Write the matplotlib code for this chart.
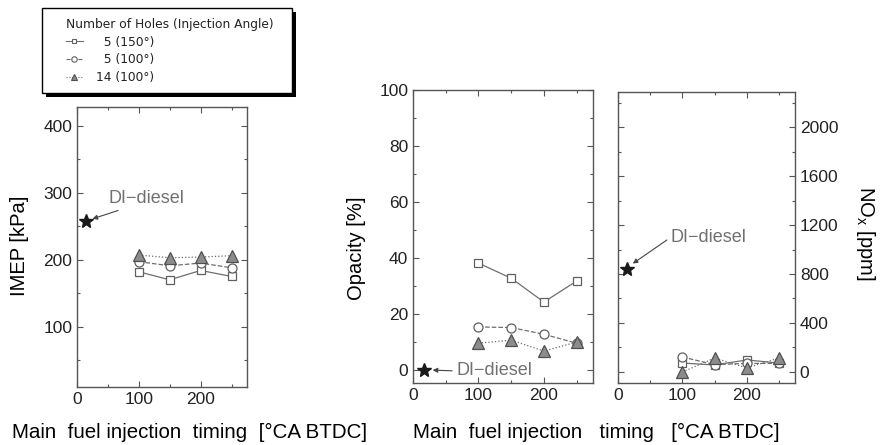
import matplotlib.pyplot as plt
from matplotlib.lines import Line2D
from matplotlib.patches import Rectangle
from matplotlib.ticker import MultipleLocator

plt.rcParams['font.family'] = ['Liberation Sans', 'DejaVu Sans']

# Datos
timing = [100, 150, 200, 250]
legend_title = 'Number of Holes (Injection Angle)'
series_labels = ['  5 (150°)', '  5 (100°)', '14 (100°)']

imep_5_150 = [182, 170, 184, 175]
imep_5_100 = [197, 191, 195, 188]
imep_14_100 = [207, 203, 204, 206]

opacity_5_150 = [38.2, 32.8, 24.3, 31.8]
opacity_5_100 = [15.4, 15.2, 12.8, 9.6]
opacity_14_100 = [9.6, 10.7, 6.8, 10.0]

nox_5_150 = [73, 57, 98, 73]
nox_5_100 = [122, 60, 70, 70]
nox_14_100 = [0, 114, 33, 114]

# DI-diesel (timing, valor)
diesel_imep = (14.5, 258)
diesel_opacity = (17, 0)
diesel_nox = (14, 840)

W, H = 882, 445
fig = plt.figure(figsize=(W / 100, H / 100), dpi=100)

line_col = '#6e6e6e'
styles = [
    dict(ls='-', marker='s', ms=6, mfc='white', mec='#606060'),
    dict(ls='--', marker='o', ms=6.5, mfc='white', mec='#606060'),
    dict(ls=':', marker='^', ms=8, mfc='#8c8c8c', mec='#505050'),
]


def px_axes(x0, y0, x1, y1):
    # caja en pixeles (desde arriba) -> coordenadas de figura
    return fig.add_axes([x0 / W, 1 - y1 / H, (x1 - x0) / W, (y1 - y0) / H])


def style_axes(ax, major_y, minor_y):
    ax.set_xlim(0, 275)
    ax.xaxis.set_major_locator(MultipleLocator(100))
    ax.xaxis.set_minor_locator(MultipleLocator(50))
    ax.yaxis.set_major_locator(MultipleLocator(major_y))
    ax.yaxis.set_minor_locator(MultipleLocator(minor_y))
    ax.tick_params(which='both', direction='in', top=True, right=True,
                   color='#555555', labelsize=12.5, labelcolor='#222222')
    ax.tick_params(which='major', length=4, width=0.8)
    ax.tick_params(which='minor', length=2, width=0.8)
    for s in ax.spines.values():
        s.set_color('#555555')
        s.set_linewidth(1.0)


def plot_series(ax, series):
    for ys, st in zip(series, styles):
        ax.plot(timing, ys, color=line_col, lw=0.9, mew=0.9, **st)


def diesel(ax, pt, text_xy, head_xy, relpos):
    ax.plot(*pt, marker='*', ms=10, color='#1a1a1a', ls='none')
    ax.annotate('DI\u2212diesel', xy=head_xy, xytext=text_xy, ha='center', va='center',
                color='#707070', fontsize=13,
                arrowprops=dict(arrowstyle='-|>', color='#444444', lw=0.8,
                                mutation_scale=7, shrinkA=1, shrinkB=0, relpos=relpos))


# Panel IMEP
ax1 = px_axes(77, 107, 247, 387)
plot_series(ax1, [imep_5_150, imep_5_100, imep_14_100])
diesel(ax1, diesel_imep, (113, 291), (25, 261), (0.25, 0.0))
ax1.set_ylim(10, 428)
style_axes(ax1, 100, 50)

# Panel Opacity
ax2 = px_axes(413, 90, 593, 383)
plot_series(ax2, [opacity_5_150, opacity_5_100, opacity_14_100])
diesel(ax2, diesel_opacity, (124, -0.3), (30, 0), (0.0, 0.5))
ax2.set_ylim(-4.6, 100)
style_axes(ax2, 20, 10)

# Panel NOx
ax3 = px_axes(618, 92, 795, 383)
plot_series(ax3, [nox_5_150, nox_5_100, nox_14_100])
diesel(ax3, diesel_nox, (141, 1100), (23, 885), (0.0, 0.5))
ax3.set_ylim(-90, 2286)
style_axes(ax3, 400, 200)
ax3.tick_params(axis='y', which='both', labelleft=False, labelright=True)

# Etiquetas
fig.text(20 / W, 1 - 246 / H, 'IMEP [kPa]', rotation=90, ha='center', va='center', fontsize=14.5)
fig.text(357 / W, 1 - 248 / H, 'Opacity [%]', rotation=90, ha='center', va='center', fontsize=14.5)
fig.text(866 / W, 1 - 233 / H, 'NO$_{\\mathregular{x}}$ [ppm]', rotation=-90,
         ha='center', va='center', fontsize=14.5)
fig.text(12 / W, 1 - 432 / H, 'Main  fuel injection  timing  [°CA BTDC]',
         ha='left', va='center', fontsize=14.8)
fig.text(413 / W, 1 - 432 / H, 'Main  fuel injection   timing   [°CA BTDC]',
         ha='left', va='center', fontsize=14.8)

# Caja de la leyenda con sombra
fig.patches.append(Rectangle((46 / W, 1 - 97 / H), 250 / W, 85 / H, transform=fig.transFigure,
                             facecolor='black', edgecolor='none', zorder=1))
fig.patches.append(Rectangle((42 / W, 1 - 93 / H), 250 / W, 85 / H, transform=fig.transFigure,
                             facecolor='white', edgecolor='black', lw=1.0, zorder=2))

handles = [Line2D([], [], color=line_col, lw=0.8, mew=0.8,
                  **dict(st, ms=st['ms'] * 0.6)) for st in styles]
leg = fig.legend(handles, series_labels, title=legend_title, loc='upper left',
                 bbox_to_anchor=(66 / W, 1 - 18 / H), alignment='left',
                 prop={'family': 'DejaVu Sans', 'size': 8.8},
                 title_fontproperties={'family': 'DejaVu Sans', 'size': 8.8},
                 handlelength=1.35, handletextpad=1.1, labelspacing=0.38,
                 borderpad=0, borderaxespad=0, frameon=False)
leg.set_zorder(5)
for t in leg.get_texts():
    t.set_color('#222222')
leg.get_title().set_color('#222222')

fig.savefig('out.png', dpi=100)
